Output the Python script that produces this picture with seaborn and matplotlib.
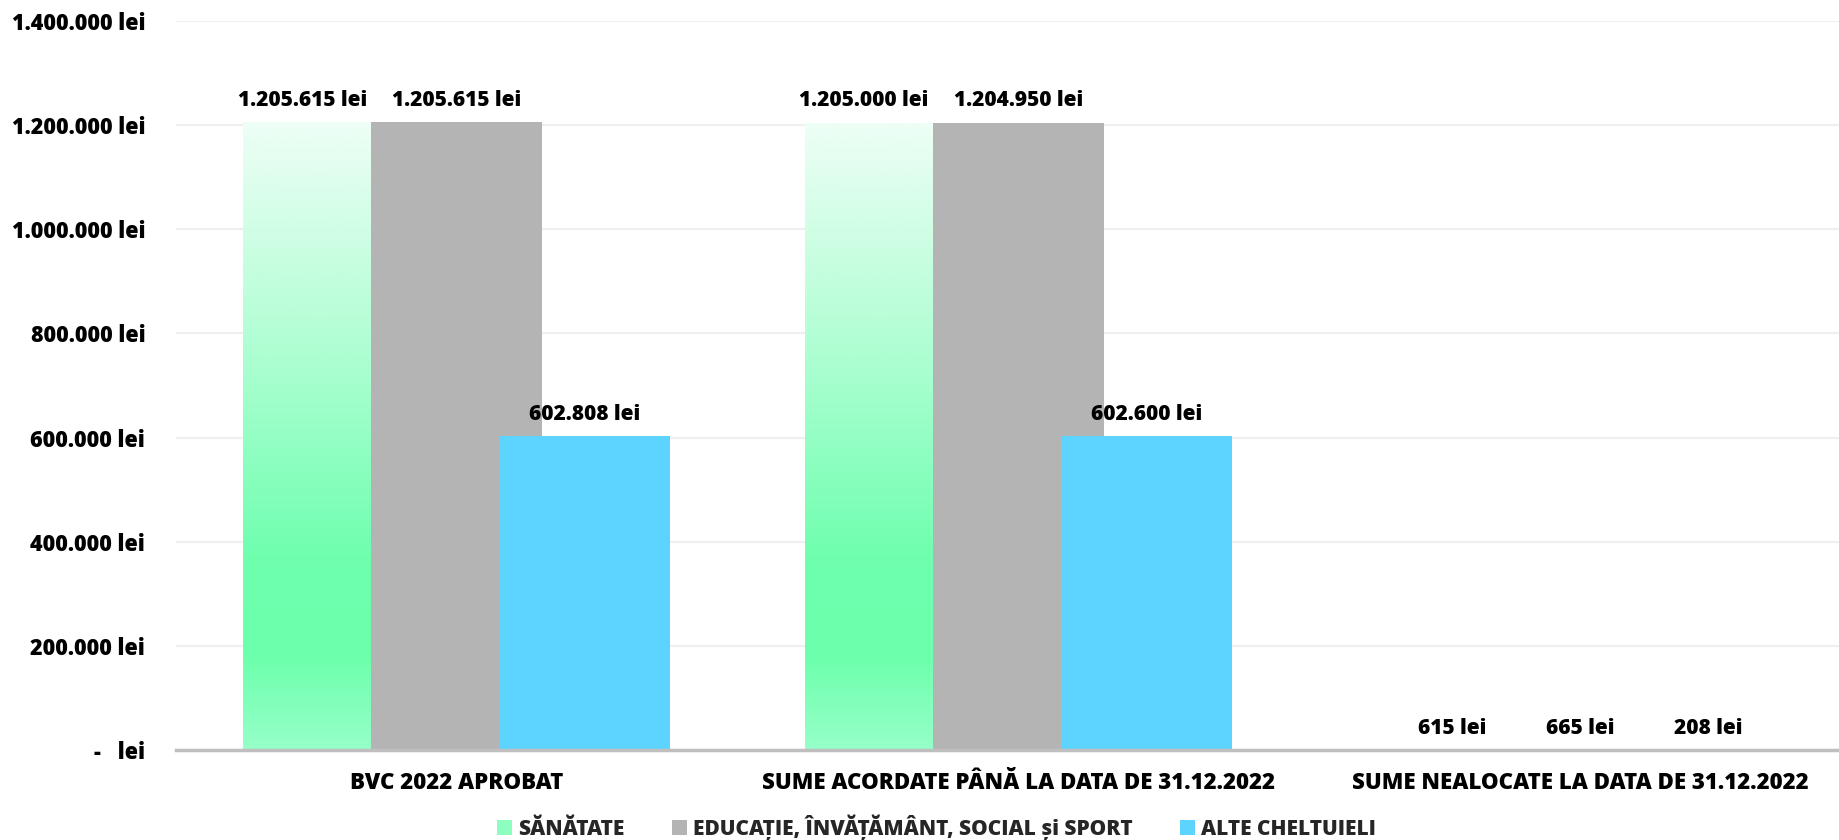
import matplotlib

matplotlib.use("Agg")
import matplotlib.pyplot as plt
import numpy as np
import pandas as pd
import seaborn as sns
from matplotlib.colors import LinearSegmentedColormap
from matplotlib.patches import Patch
from matplotlib.ticker import FuncFormatter, MultipleLocator

categories = [
    "BVC 2022 APROBAT",
    "SUME ACORDATE PÂNĂ LA DATA DE 31.12.2022",
    "SUME NEALOCATE LA DATA DE 31.12.2022",
]
series = ["SĂNĂTATE", "EDUCAȚIE, ÎNVĂȚĂMÂNT, SOCIAL și SPORT", "ALTE CHELTUIELI"]
sanatate = [1205615, 1205000, 615]
educatie = [1205615, 1204950, 665]
alte = [602808, 602600, 208]

colors = ["#8CFFC0", "#B4B4B4", "#5DD3FF"]
green_stops = [(0.0, "#96FFC8"), (0.15, "#6CFFAC"), (0.3, "#6EFFAE"), (0.6, "#A8FECF"), (1.0, "#EEFEF6")]

df = pd.DataFrame({
    "categorie": categories * 3,
    "serie": [s for s in series for _ in categories],
    "valoare": sanatate + educatie + alte,
})

sns.set_theme(style="white")
plt.rcParams["font.family"] = ["Open Sans", "DejaVu Sans"]
plt.rcParams["font.weight"] = "heavy"
W = "heavy"


def lei(v):
    if v == 0:
        return "-   lei"
    return f"{v:,.0f}".replace(",", ".") + " lei"


fig = plt.figure(figsize=(18.4, 8.4), dpi=100)
ax = fig.add_axes([0.0955, 0.107, 0.916, 0.868])

sns.barplot(
    data=df, x="categorie", y="valoare", hue="serie", order=categories, hue_order=series,
    palette=colors, width=0.684, gap=-0.333, dodge=True, legend=False, ax=ax,
    saturation=1, edgecolor="none", linewidth=0,
)

# z-order: blue over gray over green
for z, cont in enumerate(ax.containers):
    for p in cont:
        p.set_zorder(1 + z)

# gradient fill for green bars
cmap = LinearSegmentedColormap.from_list("verde", green_stops)
grad = np.linspace(0, 1, 256).reshape(-1, 1)
for p in ax.containers[0]:
    x0, y0 = p.get_x(), p.get_y()
    w, h = p.get_width(), p.get_height()
    im = ax.imshow(grad, cmap=cmap, extent=(x0, x0 + w, y0, y0 + h), origin="lower",
                   aspect="auto", zorder=1.5, interpolation="bilinear")
    im.set_clip_path(p)

for i, cont in enumerate(ax.containers):
    anns = ax.bar_label(cont, labels=[lei(b.get_height()) for b in cont], padding=8,
                        fontsize=15, fontweight=W, color="#000000")
    if i == 0:
        # big green labels are nudged left so they don't run into the gray ones
        for b, a in zip(cont, anns):
            if b.get_height() > 1000000:
                a.xyann = (-19, 8)

ax.set_xlim(-0.5, 2.5)
ax.set_ylim(0, 1400000)
ax.yaxis.set_major_locator(MultipleLocator(200000))
ax.yaxis.set_major_formatter(FuncFormatter(lambda v, _: lei(v)))
ax.grid(axis="y", color="#EFEFEF", linewidth=1.6, zorder=0)
ax.set_axisbelow(True)
for s in ["top", "right", "left"]:
    ax.spines[s].set_visible(False)
ax.spines["bottom"].set_color("#BFBFBF")
ax.spines["bottom"].set_linewidth(2.5)
ax.spines["bottom"].set_zorder(5)
ax.tick_params(axis="y", length=0, pad=22, labelsize=15.5)
ax.tick_params(axis="x", length=0, pad=15, labelsize=16)
for t in ax.get_xticklabels() + ax.get_yticklabels():
    t.set_fontweight(W)
    t.set_color("#000000")
ax.set_xlabel("")
ax.set_ylabel("")

handles = [Patch(facecolor=c, edgecolor="none") for c in colors]
fig.legend(handles, series, loc="lower center", bbox_to_anchor=(0.509, -0.022), ncol=3,
           frameon=False, handlelength=0.7, handleheight=0.7, handletextpad=0.3,
           columnspacing=2.3, prop={"size": 15, "weight": W})

fig.savefig("out.png", dpi=100)
